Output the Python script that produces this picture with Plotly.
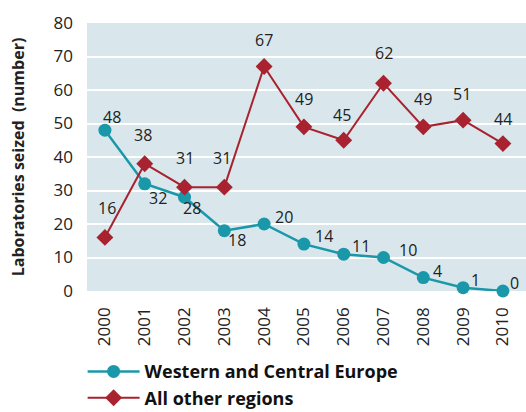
import plotly.graph_objects as go

years = [2000, 2001, 2002, 2003, 2004, 2005, 2006, 2007, 2008, 2009, 2010]
wce = [48, 32, 28, 18, 20, 14, 11, 10, 4, 1, 0]
other = [16, 38, 31, 31, 67, 49, 45, 62, 49, 51, 44]
ytick_vals = [0, 10, 20, 30, 40, 50, 60, 70, 80]

# label offsets (pixels) relative to each marker
wce_dx = [7, 13, 7, 13, 20, 20, 17, 24, 14, 12, 12]
wce_dy = [13, -14, -11, -9, 7, 8, 8, 8, 7, 8, 8]
other_dx = [2, -2, 0, -2, 0, 0, -2, 0, 0, -1, 0]
other_dy = [29, 29, 29, 29, 27, 28, 25, 30, 28, 26, 25]

teal = "#1a98a9"
red = "#a8222f"
font_fam = "Open Sans"

fig = go.Figure()
fig.add_trace(go.Scatter(
    x=years, y=wce, mode="lines+markers", name="Western and Central Europe",
    line=dict(color=teal, width=2.5), marker=dict(symbol="circle", size=13, color=teal),
    cliponaxis=False))
fig.add_trace(go.Scatter(
    x=years, y=other, mode="lines+markers", name="All other regions",
    line=dict(color=red, width=2), marker=dict(symbol="diamond", size=13, color=red),
    cliponaxis=False))

annotations = []
for x, v, dx, dy in zip(years, wce, wce_dx, wce_dy):
    annotations.append(dict(x=x, y=v, text=str(v), showarrow=False, xshift=dx, yshift=dy,
                            font=dict(size=16, color="#222222", family=font_fam)))
for x, v, dx, dy in zip(years, other, other_dx, other_dy):
    annotations.append(dict(x=x, y=v, text=str(v), showarrow=False, xshift=dx, yshift=dy,
                            font=dict(size=16, color="#222222", family=font_fam)))

fig.update_layout(
    width=526, height=412,
    margin=dict(l=87, r=0, t=23, b=121, autoexpand=False),
    paper_bgcolor="white", plot_bgcolor="#d9e7ec",
    font=dict(family=font_fam, size=16, color="#222222"),
    showlegend=True,
    annotations=annotations,
    legend=dict(x=-0.01, y=-0.232, xanchor="left", yanchor="top",
                font=dict(size=18, color="#111111", weight="bold"), tracegroupgap=0,
                itemwidth=52, bgcolor="rgba(0,0,0,0)"),
    xaxis=dict(range=[1999.55, 2010.58], tickmode="array", tickvals=years,
               ticktext=[str(y) for y in years], tickangle=-90, showgrid=False,
               zeroline=False, ticks="", tickfont=dict(size=17, color="#222222"),
               ticklabelstandoff=12, automargin=False),
    yaxis=dict(range=[0, 80], tickmode="array", tickvals=ytick_vals,
               gridcolor="white", gridwidth=1.5, zeroline=False, ticks="",
               tickfont=dict(size=17, color="#222222"), ticklabelstandoff=13, automargin=False,
               title=dict(text="<b>Laboratories seized  (number)</b>", font=dict(size=16), standoff=24)),
)

fig.write_html("out.html", config={"displayModeBar": False},
               post_script="document.body.style.margin='0';document.body.style.overflow='hidden';")
